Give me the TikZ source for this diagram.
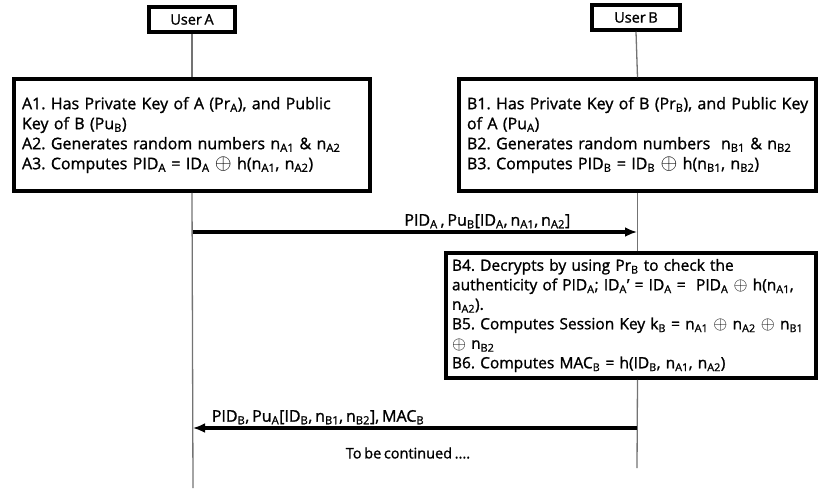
\documentclass[tikz,border=0pt]{standalone}
\usepackage{fontspec}
\setmainfont{Open Sans}[FakeBold=1.2, WordSpace=0.7]
\usetikzlibrary{positioning, arrows.meta}
\frenchspacing

\newcommand{\sub}[1]{\textsubscript{#1}}
\newcommand{\xor}{\raisebox{-0.03em}{\scalebox{1.25}{$\oplus$}}}

\begin{document}
\begin{tikzpicture}[
  x=1pt, y={(0pt,-1pt)},
  >={Latex[length=12pt,width=10pt]},
  actor/.style    = {draw, line width=3.5pt, fill=white, minimum width=86pt, minimum height=25pt, inner sep=1pt, font=\fontsize{14.5}{16}\selectfont},
  stepbox/.style  = {draw, line width=3.5pt, fill=white, align=left, inner xsep=8pt, inner ysep=2pt, font=\fontsize{16}{20}\selectfont},
  life/.style     = {draw=black!55, line width=1.3pt},
  msg/.style      = {->, line width=3.5pt},
  msglabel/.style = {font=\fontsize{16}{18}\selectfont, inner sep=2pt},
]
  \useasboundingbox (0,0) rectangle (819,488);

  \node[actor] (userA) at (192,19.5) {User A};
  \node[actor, minimum width=88pt] (userB) at (636,17.5) {User B};

  \node[stepbox, text width=340pt, minimum height=112pt] (initA) at (192,135)
    {\mbox{A1. Has Private Key of A (Pr\sub{A}), and Public}\\
     Key of B (Pu\sub{B})\\
     A2. Generates random numbers n\sub{A1} \& n\sub{A2}\\
     A3. Computes PID\sub{A} = ID\sub{A} \xor{} h(n\sub{A1}, n\sub{A2})};
  \node[stepbox, text width=341pt, minimum height=112pt] (initB) at (637.5,135)
    {\mbox{B1. Has Private Key of B (Pr\sub{B}), and Public Key}\\
     of A (Pu\sub{A})\\
     B2. Generates random numbers~ n\sub{B1} \& n\sub{B2}\\
     B3. Computes PID\sub{B} = ID\sub{B} \xor{} h(n\sub{B1}, n\sub{B2})};

  \node[stepbox, text width=358pt, minimum height=125pt, inner xsep=6pt,
        font=\fontsize{15.5}{19.5}\selectfont] (checkB) at (631,315.5)
    {B4. Decrypts by using Pr\sub{B} to check the\\
     \mbox{authenticity of PID\sub{A}; ID\sub{A}’ = ID\sub{A} = ~PID\sub{A} \xor{} h(n\sub{A1},}\\
     n\sub{A2}).\\
     \mbox{B5. Computes Session Key k\sub{B} = n\sub{A1} \xor{} n\sub{A2} \xor{} n\sub{B1}}\\
     \xor{} n\sub{B2}\\
     B6. Computes MAC\sub{B} = h(ID\sub{B}, n\sub{A1}, n\sub{A2})};

  % lifelines
  \coordinate (endA) at (193,488);
  \coordinate (endB) at (637,468);
  \coordinate (m1A) at (193,232);
  \coordinate (m1B) at (637,232);
  \coordinate (m2A) at (193,428);
  \coordinate (m2B) at (637,428);

  \draw[life] (userA.south) -- (initA.north);
  \draw[life] (initA.south) -- (endA);
  \draw[life] (userB.south) -- (initB.north);
  \draw[life] (initB.south) -- (checkB.north -| initB.south);
  \draw[life] (checkB.south -| initB.south) -- (endB);

  % messages
  \draw[msg] (m1A) -- node[msglabel, anchor=south east, pos=0.858]
    {PID\sub{A} , Pu\sub{B}[ID\sub{A}, n\sub{A1}, n\sub{A2}]} (m1B);
  \draw[msg] (m2B) -- node[msglabel, anchor=south west, pos=0.966]
    {PID\sub{B}, Pu\sub{A}[ID\sub{B}, n\sub{B1}, n\sub{B2}], MAC\sub{B}} (m2A);

  \node[msglabel, font=\fontsize{14.5}{16}\selectfont] (cont) at (408,453) {To be continued ....};
\end{tikzpicture}
\end{document}
